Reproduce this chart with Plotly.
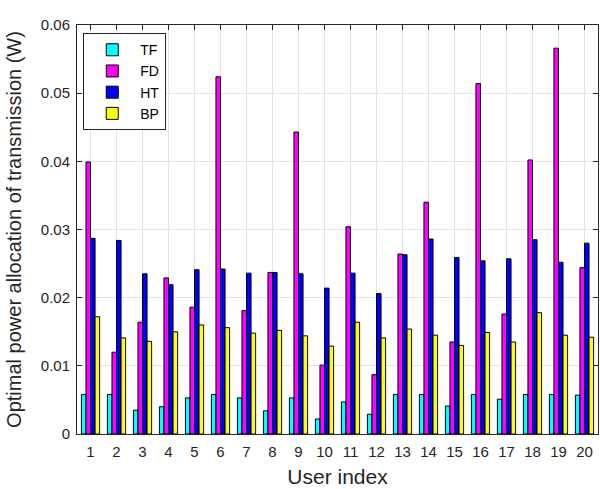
import plotly.graph_objects as go

users = list(range(1, 21))
tf = [0.0058, 0.0058, 0.0035, 0.0040, 0.0053, 0.0058, 0.0053, 0.0034, 0.0053, 0.0022,
      0.0047, 0.0029, 0.0058, 0.0058, 0.0041, 0.0058, 0.0051, 0.0058, 0.0058, 0.0057]
fd = [0.0399, 0.0120, 0.0164, 0.0229, 0.0186, 0.0524, 0.0181, 0.0237, 0.0443, 0.0101,
      0.0304, 0.0087, 0.0264, 0.0340, 0.0135, 0.0514, 0.0176, 0.0402, 0.0566, 0.0244]
ht = [0.0287, 0.0284, 0.0235, 0.0219, 0.0241, 0.0242, 0.0236, 0.0237, 0.0235, 0.0214,
      0.0236, 0.0206, 0.0263, 0.0286, 0.0259, 0.0254, 0.0257, 0.0285, 0.0252, 0.0280]
bp = [0.0172, 0.0141, 0.0136, 0.0150, 0.0160, 0.0156, 0.0148, 0.0152, 0.0144, 0.0129,
      0.0164, 0.0141, 0.0154, 0.0145, 0.0130, 0.0149, 0.0135, 0.0178, 0.0145, 0.0142]

series = [("TF", tf, "#00FFFF"), ("FD", fd, "#FF00FF"), ("HT", ht, "#0000FF"), ("BP", bp, "#FFFF00")]

fig = go.Figure()
for name, vals, col in series:
    fig.add_trace(go.Bar(x=users, y=vals, name=name,
                         marker=dict(color=col, line=dict(color="black", width=1))))

axcol = "#262626"
fig.update_layout(
    width=600, height=489,
    margin=dict(l=77, r=2, t=25, b=55),
    paper_bgcolor="white", plot_bgcolor="white",
    barmode="group", bargap=0.3, bargroupgap=0,
    font=dict(family="Arial, Liberation Sans, sans-serif", color=axcol, size=15),
    legend=dict(x=0.012, y=0.98, xanchor="left", yanchor="top",
                bgcolor="white", bordercolor=axcol, borderwidth=1,
                font=dict(size=14, color="black"), itemwidth=46,
                tracegroupgap=0),
    xaxis=dict(range=[0.48, 20.52], tickmode="array", tickvals=users,
               ticktext=[str(u) for u in users], automargin=False,
               showgrid=True, gridcolor="#e3e3e3", gridwidth=1,
               showline=True, linecolor=axcol, linewidth=1, mirror="ticks",
               ticks="inside", ticklen=5, tickcolor=axcol, ticklabelstandoff=4,
               tickfont=dict(size=15, color=axcol),
               title=dict(text="User index", font=dict(size=21, color=axcol), standoff=10),
               zeroline=False),
    yaxis=dict(range=[0, 0.06], tickmode="array",
               tickvals=[0, 0.01, 0.02, 0.03, 0.04, 0.05, 0.06],
               ticktext=["0", "0.01", "0.02", "0.03", "0.04", "0.05", "0.06"],
               showgrid=True, gridcolor="#e3e3e3", gridwidth=1, automargin=False,
               showline=True, linecolor=axcol, linewidth=1, mirror="ticks",
               ticks="inside", ticklen=5, tickcolor=axcol, ticklabelstandoff=3,
               tickfont=dict(size=15, color=axcol),
               title=dict(text="Optimal power allocation of transmission (W)",
                          font=dict(size=20, color=axcol), standoff=13),
               zeroline=False),
)

fig.write_html("out.html", config={"displayModeBar": False},
               post_script="document.body.style.margin='0';document.body.style.overflow='hidden';")
